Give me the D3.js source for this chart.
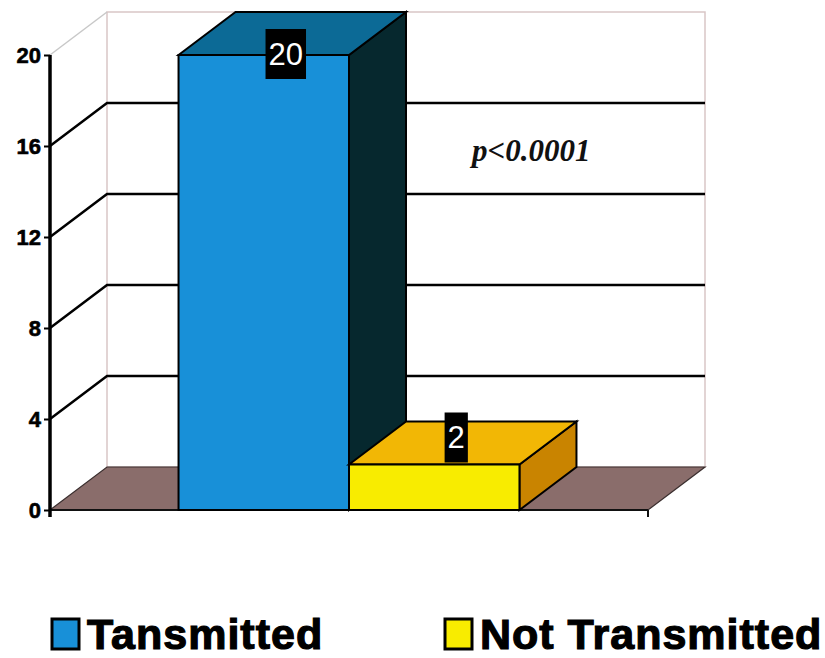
<!DOCTYPE html>
<html>
<head>
<meta charset="utf-8">
<script src="https://cdn.jsdelivr.net/npm/d3@7"></script>
<style>
  html, body { margin: 0; padding: 0; background: #fff; }
  svg { display: block; }
</style>
</head>
<body>
<svg id="chart" width="825" height="658"></svg>
<script>
// Data
const series = ["Tansmitted", "Not Transmitted"];
const values = [20, 2];
const valueLabels = ["20", "2"];
const yTicks = [0, 4, 8, 12, 16, 20];
const annotation = "p<0.0001";

// Face colours per series: front, top, side
const frontColors = ["#1890d8", "#f8ec00"];
const topColors = ["#0c6a96", "#f2b705"];
const sideColors = ["#06282e", "#c98400"];

const svg = d3.select("#chart");

// Plot geometry with an oblique depth offset
const plotLeft = 50, plotRight = 648, plotTop = 55, plotBottom = 510;
const dx = 57, dy = -43;

const y = d3.scaleLinear().domain([0, 20]).range([plotBottom, plotTop]);
const group = d3.scaleBand().domain(["all"]).range([plotLeft, plotRight]).paddingOuter(0.377).paddingInner(0);
const x = d3.scaleBand().domain(series).range([group("all"), group("all") + group.bandwidth()]).padding(0);

const pts = a => a.map(p => p.join(",")).join(" ");

// Back wall
svg.append("rect")
  .attr("x", plotLeft + dx).attr("y", plotTop + dy)
  .attr("width", plotRight - plotLeft).attr("height", plotBottom - plotTop)
  .attr("fill", "#fff").attr("stroke", "#d9c6c6").attr("stroke-width", 1.5);

// Floor
svg.append("polygon")
  .attr("points", pts([[plotLeft, plotBottom], [plotLeft + dx, plotBottom + dy], [plotRight + dx, plotBottom + dy], [plotRight, plotBottom]]))
  .attr("fill", "#8a6d6b").attr("stroke", "#3a2e2e").attr("stroke-width", 1.2);

// Top edge of the side wall
svg.append("line")
  .attr("x1", plotLeft).attr("y1", y(20)).attr("x2", plotLeft + dx).attr("y2", y(20) + dy)
  .attr("stroke", "#c8c8c8").attr("stroke-width", 1.5);

// Gridlines running across the side wall and back wall
svg.append("g").selectAll("path")
  .data(yTicks.filter(t => t > 0 && t < 20))
  .join("path")
  .attr("d", t => `M${plotLeft},${y(t)} L${plotLeft + dx},${y(t) + dy} L${plotRight + dx},${y(t) + dy}`)
  .attr("fill", "none").attr("stroke", "#000").attr("stroke-width", 2.5);

// Floor front edge
svg.append("line")
  .attr("x1", plotLeft).attr("y1", plotBottom).attr("x2", plotRight).attr("y2", plotBottom)
  .attr("stroke", "#111").attr("stroke-width", 2);
svg.append("line")
  .attr("x1", plotRight).attr("y1", plotBottom).attr("x2", plotRight).attr("y2", plotBottom + 7)
  .attr("stroke", "#111").attr("stroke-width", 2);

// Y axis
const yAxis = d3.axisLeft(y).tickValues(yTicks).tickSize(6).tickPadding(3);
const ag = svg.append("g").attr("transform", `translate(${plotLeft},0)`).call(yAxis);
ag.select(".domain").remove();
ag.selectAll(".tick line").attr("stroke", "#000").attr("stroke-width", 2);
ag.selectAll(".tick text")
  .attr("font-family", "'Liberation Sans', Arial, sans-serif")
  .attr("font-weight", "bold").attr("font-size", 22).attr("fill", "#000")
  .attr("stroke", "#000").attr("stroke-width", 0.6);
svg.append("line")
  .attr("x1", plotLeft).attr("y1", y(20)).attr("x2", plotLeft).attr("y2", plotBottom + 7)
  .attr("stroke", "#000").attr("stroke-width", 3.5);

// Bars: front, top and side faces
const bars = svg.append("g").selectAll("g").data(series).join("g");
bars.each(function (s, i) {
  const g = d3.select(this);
  const x0 = x(s), x1 = x(s) + x.bandwidth();
  const yv = y(values[i]), y0 = y(0);
  g.append("polygon")
    .attr("points", pts([[x1, yv], [x1 + dx, yv + dy], [x1 + dx, y0 + dy], [x1, y0]]))
    .attr("fill", sideColors[i]).attr("stroke", "#000").attr("stroke-width", 2);
  g.append("polygon")
    .attr("points", pts([[x0, yv], [x0 + dx, yv + dy], [x1 + dx, yv + dy], [x1, yv]]))
    .attr("fill", topColors[i]).attr("stroke", "#000").attr("stroke-width", 2);
  g.append("rect")
    .attr("x", x0).attr("y", yv).attr("width", x1 - x0).attr("height", y0 - yv)
    .attr("fill", frontColors[i]).attr("stroke", "#000").attr("stroke-width", 2);
});

// Value labels in black boxes
series.forEach((s, i) => {
  const cx = x(s) + x.bandwidth() / 2 + 22;
  const cy = Math.max(y(values[i]) - 27, plotTop - 1);
  const t = svg.append("text")
    .attr("x", cx).attr("y", cy)
    .attr("text-anchor", "middle").attr("dominant-baseline", "central")
    .attr("font-family", "'Liberation Sans', Arial, sans-serif")
    .attr("font-size", 31).attr("fill", "#fff")
    .text(valueLabels[i]);
  const bb = t.node().getBBox();
  svg.insert("rect", () => t.node())
    .attr("x", bb.x - 3).attr("y", cy - 25)
    .attr("width", bb.width + 6).attr("height", 50)
    .attr("fill", "#000");
});

// Significance annotation
svg.append("text")
  .attr("x", 472).attr("y", 161)
  .attr("font-family", "'Liberation Serif', 'Times New Roman', serif")
  .attr("font-style", "italic").attr("font-weight", "bold")
  .attr("font-size", 31).attr("fill", "#111")
  .text(annotation);

// Legend
const legendX = [52, 445];
const legend = svg.append("g").selectAll("g").data(series).join("g")
  .attr("transform", (d, i) => `translate(${legendX[i]},619)`);
legend.append("rect")
  .attr("width", 27).attr("height", 30)
  .attr("fill", (d, i) => frontColors[i]).attr("stroke", "#000").attr("stroke-width", 3);
legend.append("text")
  .attr("x", 35).attr("y", 30)
  .attr("font-family", "'Liberation Sans', Arial, sans-serif")
  .attr("font-weight", "bold").attr("font-size", 43).attr("fill", "#000")
  .attr("stroke", "#000").attr("stroke-width", 1.2)
  .attr("letter-spacing", 1)
  .text(d => d);
</script>
</body>
</html>
